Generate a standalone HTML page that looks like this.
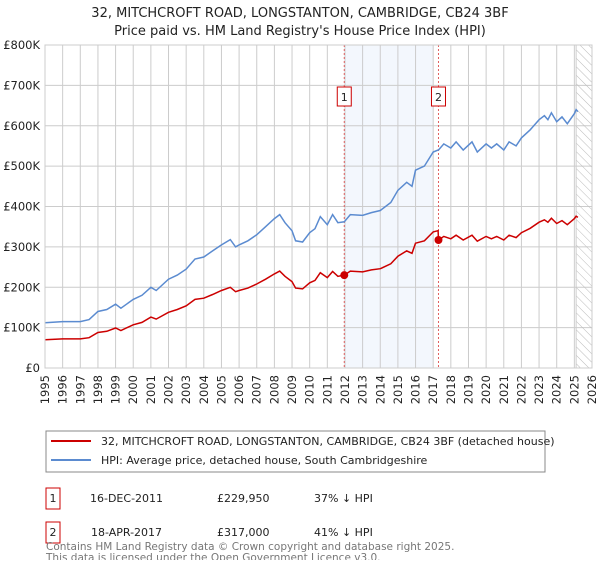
<!DOCTYPE html>
<html><head><meta charset="utf-8"><style>
body{margin:0;background:#fff;}
svg text{font-family:"DejaVu Sans","Liberation Sans",sans-serif;}
</style></head><body>
<svg id="chart" width="600" height="560" xmlns="http://www.w3.org/2000/svg">
<defs><pattern id="hatch" width="6" height="6" patternUnits="userSpaceOnUse" patternTransform="rotate(-45)"><line x1="0" y1="0" x2="0" y2="6" stroke="#bbb" stroke-width="1"/></pattern></defs>
<text x="300" y="17" text-anchor="middle" font-size="13" fill="#222">32, MITCHCROFT ROAD, LONGSTANTON, CAMBRIDGE, CB24 3BF</text>
<text x="300" y="35" text-anchor="middle" font-size="13" fill="#222">Price paid vs. HM Land Registry's House Price Index (HPI)</text>
<g id="grid"></g><g id="marks"></g><g id="axes"></g>
<g>
<rect x="46" y="431" width="499" height="41" fill="#fff" stroke="#888"/>
<line x1="51" y1="441" x2="91" y2="441" stroke="#cc0000" stroke-width="2"/>
<text x="101" y="445" font-size="11" fill="#222">32, MITCHCROFT ROAD, LONGSTANTON, CAMBRIDGE, CB24 3BF (detached house)</text>
<line x1="51" y1="460" x2="91" y2="460" stroke="#5b8bd0" stroke-width="2"/>
<text x="101" y="464" font-size="11" fill="#222">HPI: Average price, detached house, South Cambridgeshire</text>
</g>
<g font-size="11" fill="#222">
<rect x="46" y="488" width="14" height="21" fill="#fff" stroke="#cc0000"/><text x="53" y="502" text-anchor="middle">1</text>
<text x="90" y="502">16-DEC-2011</text><text x="217" y="502">£229,950</text><text x="314" y="502">37% ↓ HPI</text>
<rect x="46" y="522" width="14" height="21" fill="#fff" stroke="#cc0000"/><text x="53" y="536" text-anchor="middle">2</text>
<text x="91" y="536">18-APR-2017</text><text x="217" y="536">£317,000</text><text x="314" y="536">41% ↓ HPI</text>
</g>
<text font-size="10.5" fill="#777" x="46" y="550">Contains HM Land Registry data © Crown copyright and database right 2025.</text>
<text font-size="10.5" fill="#777" x="46" y="561">This data is licensed under the Open Government Licence v3.0.</text>
</svg>
<script>
const years=[1995,1996,1997,1998,1999,2000,2001,2002,2003,2004,2005,2006,2007,2008,2009,2010,2011,2012,2013,2014,2015,2016,2017,2018,2019,2020,2021,2022,2023,2024,2025,2026];
const yTicks=[0,100,200,300,400,500,600,700,800];
const yTickLabels=["£0","£100K","£200K","£300K","£400K","£500K","£600K","£700K","£800K"];
const times=[1995,1996,1997,1997.5,1998,1998.5,1999,1999.3,2000,2000.5,2001,2001.3,2002,2002.5,2003,2003.5,2004,2004.5,2005,2005.5,2005.8,2006,2006.5,2007,2007.5,2008,2008.3,2008.6,2009,2009.2,2009.6,2010,2010.3,2010.6,2011,2011.3,2011.6,2011.96,2012.3,2013,2013.5,2014,2014.6,2015,2015.5,2015.8,2016,2016.5,2017,2017.28,2017.3,2017.6,2018,2018.3,2018.7,2019.2,2019.5,2020,2020.3,2020.6,2021,2021.3,2021.7,2022,2022.5,2023,2023.3,2023.5,2023.7,2024,2024.3,2024.6,2025,2025.1,2025.2];
const hpi=[112,115,115,120,140,145,158,148,170,180,200,192,220,230,245,270,275,290,305,318,300,305,315,330,350,370,380,360,340,315,312,335,345,375,355,380,360,362,380,378,385,390,410,440,460,450,490,500,535,540,540,555,545,560,540,560,535,555,545,555,540,560,550,570,590,615,625,615,632,610,622,605,630,640,635];
const property=[70,72,72,75,88,91,99,93,107,113,126,121,138,145,154,170,173,182,192,200,189,192,198,208,220,233,240,227,214,198,196,211,217,236,224,239,227,230,240,238,243,246,258,277,290,284,309,315,337,340,317,326,320,329,317,329,314,326,320,326,317,329,323,335,346,361,367,361,371,358,365,355,370,376,373];
const saleTimes=[2011.96,2017.3];
const salePrices=[229.95,317];
const saleLabels=["1","2"];
const X0=45,X1=592,Y0=368,Y1=45;
const xs=t=>X0+(t-1995)/(2026-1995)*(X1-X0);
const ys=v=>Y0-v/800*(Y0-Y1);
const NS="http://www.w3.org/2000/svg";
function mk(tag,attrs,parent){const e=document.createElementNS(NS,tag);for(const k in attrs)e.setAttribute(k,attrs[k]);parent.appendChild(e);return e;}
const grid=document.getElementById('grid'),marks=document.getElementById('marks'),axes=document.getElementById('axes');
let band=mk('rect',{x:xs(saleTimes[0]),y:Y1,width:xs(2017.0)-xs(saleTimes[0]),height:Y0-Y1,fill:'#eef3fc',opacity:0.7},grid);


years.forEach(y=>{let l=mk('line',{x1:xs(y),x2:xs(y),y1:Y1,y2:Y0,stroke:'#ccc'},grid);


let t=mk('text',{transform:`translate(${xs(y)+4},${Y0+7}) rotate(-90)`,'text-anchor':'end','font-size':'11.5',fill:'#222'},axes);t.textContent=y;

});
yTicks.forEach((v,i)=>{let l=mk('line',{x1:X0,x2:X1,y1:ys(v),y2:ys(v),stroke:'#ccc'},grid);


let t=mk('text',{x:X0-5,y:ys(v)+4,'text-anchor':'end','font-size':'11.5',fill:'#222'},axes);t.textContent=yTickLabels[i];

});
let h=mk('rect',{x:xs(2025.1),y:Y1,width:X1-xs(2025.1),height:Y0-Y1,fill:'url(#hatch)',stroke:'#ccc'},grid);


saleTimes.forEach((t,i)=>{let l=mk('line',{x1:xs(t),x2:xs(t),y1:Y1,y2:Y0,stroke:'#e06060','stroke-dasharray':'2,2'},marks);


let b=mk('rect',{x:xs(t)-7,y:87,width:14,height:19,fill:'#fff',stroke:'#cc0000'},marks);


let tx=mk('text',{x:xs(t),y:101,'text-anchor':'middle','font-size':'11',fill:'#222'},marks);tx.textContent=saleLabels[i];

});
const pts=a=>a.map((v,i)=>xs(times[i]).toFixed(1)+','+ys(v).toFixed(1)).join(' ');
let hl=mk('polyline',{points:pts(hpi),fill:'none',stroke:'#5b8bd0','stroke-width':1.5},marks);


let pl=mk('polyline',{points:pts(property),fill:'none',stroke:'#cc0000','stroke-width':1.5},marks);


saleTimes.forEach((t,i)=>{let c=mk('circle',{cx:xs(t),cy:ys(salePrices[i]),r:4,fill:'#cc0000'},marks);

});
let ax=mk('rect',{x:X0,y:Y1,width:X1-X0,height:Y0-Y1,fill:'none',stroke:'#ccc'},axes);


</script>
</body></html>
